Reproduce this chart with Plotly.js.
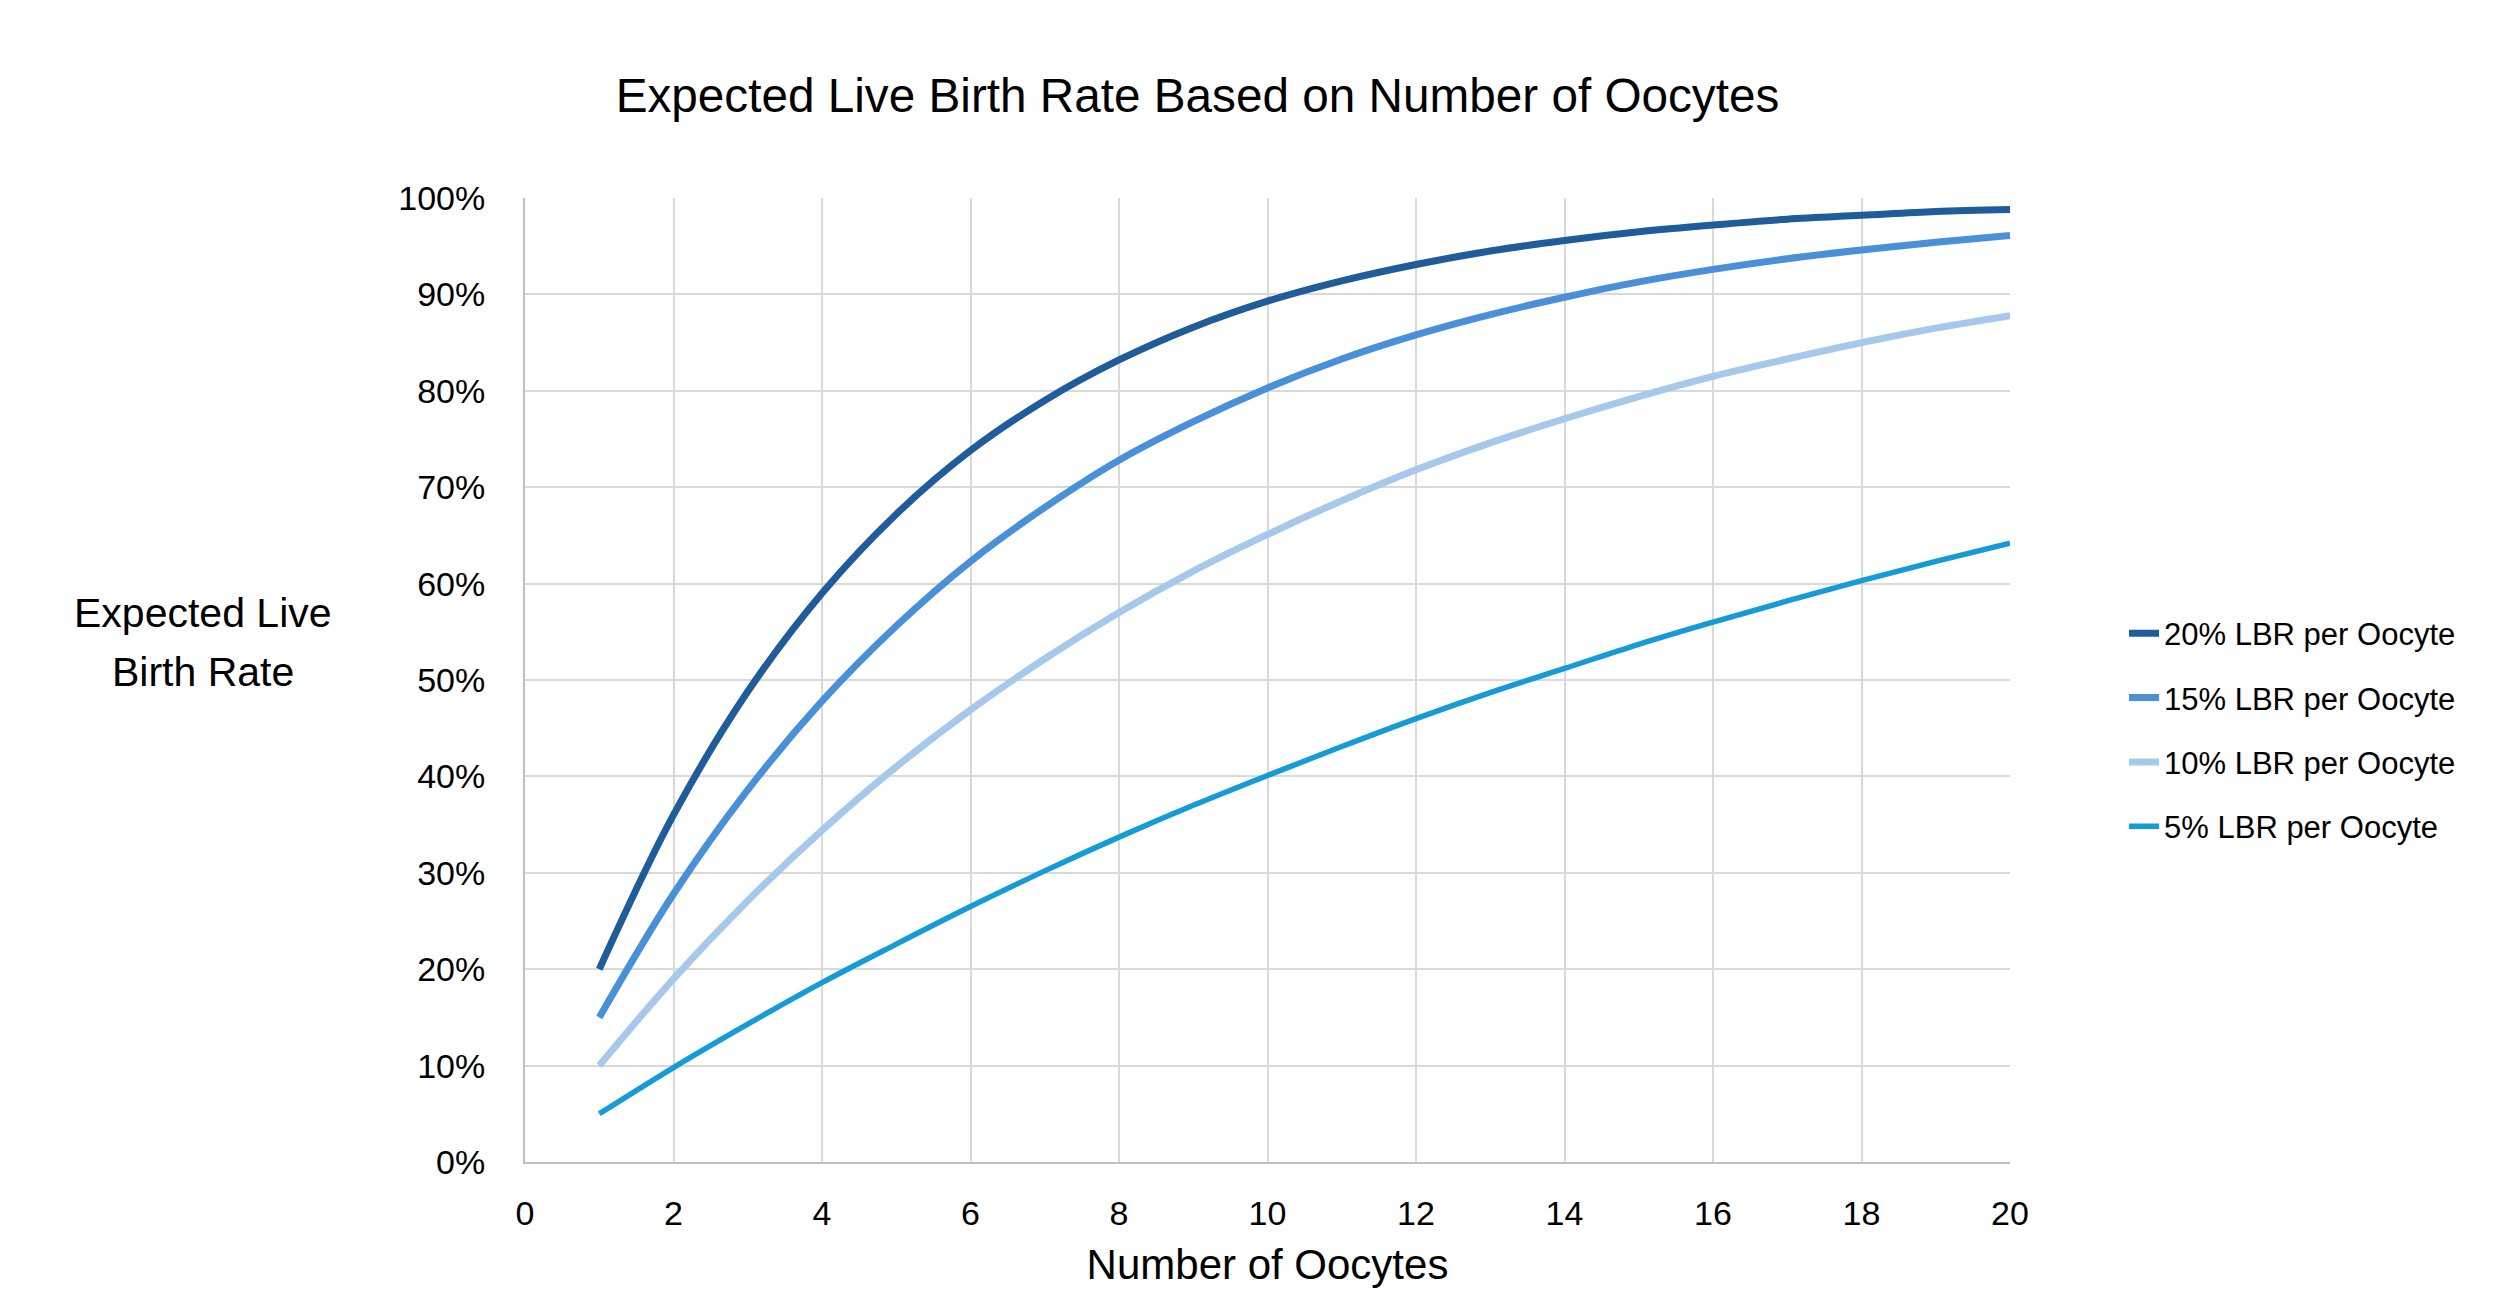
<!DOCTYPE html>
<html>
<head>
<meta charset="utf-8">
<script src="https://cdn.plot.ly/plotly-3.0.1.min.js"></script>
<style>html,body{margin:0;padding:0;background:#fff;}#chart{width:2500px;height:1300px;}</style>
</head>
<body>
<div id="chart"></div>
<script>
const oocytes = [1,2,3,4,5,6,7,8,9,10,11,12,13,14,15,16,17,18,19,20];
const seriesNames = ["20% LBR per Oocyte","15% LBR per Oocyte","10% LBR per Oocyte","5% LBR per Oocyte"];
const lbr20 = [0.200,0.360,0.488,0.590,0.672,0.738,0.790,0.832,0.866,0.893,0.914,0.931,0.945,0.956,0.965,0.972,0.978,0.982,0.986,0.988];
const lbr15 = [0.150,0.278,0.386,0.478,0.556,0.623,0.679,0.728,0.768,0.803,0.833,0.858,0.879,0.897,0.913,0.926,0.937,0.946,0.954,0.961];
const lbr10 = [0.100,0.190,0.271,0.344,0.410,0.469,0.522,0.570,0.613,0.651,0.686,0.718,0.746,0.771,0.794,0.815,0.833,0.850,0.865,0.878];
const lbr5  = [0.050,0.098,0.143,0.186,0.226,0.265,0.302,0.337,0.370,0.401,0.431,0.460,0.487,0.512,0.537,0.560,0.582,0.603,0.623,0.642];
const xTicks = [0,2,4,6,8,10,12,14,16,18,20];
const yTicks = [0,0.1,0.2,0.3,0.4,0.5,0.6,0.7,0.8,0.9,1.0];

const colors = ["#1F5C99","#4A90D9","#A5C8EB","#159CD6"];
const widths = [7,7,7,5.5];
const allSeries = [lbr20, lbr15, lbr10, lbr5];

const traces = allSeries.map((ys, i) => ({
  type: 'scatter', mode: 'lines',
  x: oocytes, y: ys, name: seriesNames[i],
  legendgroup: 'g' + i,
  line: {color: colors[i], width: widths[i], shape: 'spline', smoothing: 1},
  hoverinfo: 'skip'
}));

const baseFont = {family: '"Liberation Sans", Arial, sans-serif', color: '#000'};

const layout = {
  width: 2500, height: 1300,
  paper_bgcolor: '#fff', plot_bgcolor: '#fff',
  margin: {l: 525, r: 490, t: 198, b: 138, autoexpand: false},
  title: {
    text: 'Expected Live Birth Rate Based on Number of Oocytes',
    font: {family: '"Liberation Sans", Arial, sans-serif', size: 47.7, color: '#000'},
    x: 0.479, xref: 'container', xanchor: 'center',
    y: 0.927, yref: 'container', yanchor: 'middle'
  },
  xaxis: {
    range: [0, 20], tickvals: xTicks, ticktext: xTicks.map(String),
    showgrid: true, gridcolor: '#D9D9D9', gridwidth: 2,
    zeroline: false, showline: true, linecolor: '#BFBFBF', linewidth: 2,
    ticks: '', ticklabelstandoff: 20,
    tickfont: Object.assign({size: 34}, baseFont),
    title: {text: 'Number of Oocytes', font: Object.assign({size: 42}, baseFont), standoff: 19},
    automargin: false
  },
  yaxis: {
    range: [0, 1], tickvals: yTicks, tickformat: '.0%',
    showgrid: true, gridcolor: '#D9D9D9', gridwidth: 2,
    zeroline: false, showline: true, linecolor: '#BFBFBF', linewidth: 2,
    ticks: '', ticklabelstandoff: 31,
    tickfont: Object.assign({size: 34}, baseFont),
    automargin: false
  },
  legend: {
    x: 1.0768, xanchor: 'left', y: 0.448, yanchor: 'middle',
    font: Object.assign({size: 31}, baseFont),
    traceorder: 'grouped', tracegroupgap: 21,
    bgcolor: 'rgba(0,0,0,0)', borderwidth: 0
  },
  annotations: [
    {text: 'Expected Live', xref: 'paper', yref: 'paper', x: -0.2168, y: 0.5695,
     xanchor: 'center', yanchor: 'middle', showarrow: false,
     font: Object.assign({size: 41}, baseFont)},
    {text: 'Birth Rate', xref: 'paper', yref: 'paper', x: -0.2168, y: 0.5083,
     xanchor: 'center', yanchor: 'middle', showarrow: false,
     font: Object.assign({size: 41}, baseFont)}
  ],
  showlegend: true
};

Plotly.newPlot('chart', traces, layout, {displayModeBar: false, staticPlot: true});
</script>
</body>
</html>
